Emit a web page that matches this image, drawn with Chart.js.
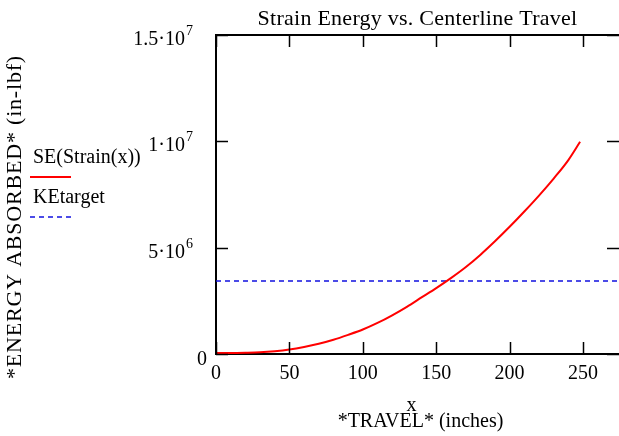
<!DOCTYPE html>
<html lang="en">
<head>
  <meta charset="UTF-8" />
  <title>Strain Energy vs. Centerline Travel</title>
  <style>
    body { margin: 0; background: #fff; }
    #wrap { width: 619px; height: 436px; }
  </style>
  <script src="https://cdn.jsdelivr.net/npm/chart.js"></script>
</head>
<body>
  <div id="wrap"><canvas id="seChart" width="619" height="436"></canvas></div>
  <script>
    // values: travel in inches, energy in in-lbf
    const travel = [0, 10, 20, 30, 40, 50, 60, 70, 80, 90, 100, 110, 120, 130, 140, 150, 160, 170, 180, 190, 200, 210, 220, 230, 240, 248];
    const energy = [0.05e6, 0.05e6, 0.06e6, 0.08e6, 0.13e6, 0.21e6, 0.33e6, 0.48e6, 0.67e6, 0.9e6, 1.15e6, 1.46e6, 1.82e6, 2.22e6, 2.66e6, 3.1e6, 3.57e6, 4.08e6, 4.66e6, 5.3e6, 5.98e6, 6.7e6, 7.45e6, 8.25e6, 9.12e6, 9.98e6];
    const keTarget = 3.43e6;
    const xRange = [0, 274.5];
    const yRange = [0, 1.5e7];

    // y tick labels in Mathcad style: base text plus a superscript exponent
    const yTickValues = [0, 5e6, 1e7, 1.5e7];
    const yTickBase = ['0', '5\u00B710', '1\u00B710', '1.5\u00B710'];
    const yTickExp = ['', '6', '7', '7'];

    const serif = "'Liberation Serif', 'Times New Roman', serif";

    // frame, inward ticks, titles, y labels and the legend
    const decor = {
      id: 'decor',
      afterDraw(chart) {
        const { ctx, chartArea: a, scales: { x, y } } = chart;
        ctx.save();
        ctx.strokeStyle = '#000';
        ctx.lineWidth = 2;
        ctx.beginPath();
        ctx.moveTo(a.left, a.top);
        ctx.lineTo(a.right, a.top);
        ctx.stroke();

        ctx.lineWidth = 1.5;
        ctx.beginPath();
        x.ticks.forEach(t => {
          const px = Math.round(x.getPixelForValue(t.value)) + 0.5;
          ctx.moveTo(px, a.bottom); ctx.lineTo(px, a.bottom - 12);
          ctx.moveTo(px, a.top); ctx.lineTo(px, a.top + 12);
        });
        yTickValues.forEach(v => {
          const py = Math.round(y.getPixelForValue(v)) + 0.5;
          ctx.moveTo(a.left, py); ctx.lineTo(a.left + 12, py);
          ctx.moveTo(a.right, py); ctx.lineTo(a.right - 12, py);
        });
        ctx.stroke();

        ctx.fillStyle = '#000';
        ctx.textBaseline = 'alphabetic';
        yTickValues.forEach((v, i) => {
          const py = y.getPixelForValue(v);
          ctx.font = '20px ' + serif;
          if (yTickExp[i]) {
            ctx.textAlign = 'right';
            ctx.fillText(yTickBase[i], 185, py + 10);
            ctx.textAlign = 'left';
            ctx.font = '14px ' + serif;
            ctx.fillText(yTickExp[i], 186, py);
          } else {
            ctx.textAlign = 'right';
            ctx.fillText(yTickBase[i], 207, py + 11);
          }
        });

        // title
        ctx.font = '22px ' + serif;
        ctx.letterSpacing = '0.25px';
        ctx.textAlign = 'center';
        ctx.fillText('Strain Energy vs. Centerline Travel', (a.left + a.right) / 2, 25);

        // x axis title
        ctx.font = '20px ' + serif;
        ctx.letterSpacing = '0px';
        ctx.fillText('x', (a.left + a.right) / 2 - 6, 411);
        ctx.fillText('*TRAVEL* (inches)', (a.left + a.right) / 2 + 3, 427);

        // y axis title
        ctx.save();
        ctx.font = '22px ' + serif;
        ctx.letterSpacing = '0.8px';
        ctx.translate(21, 217);
        ctx.rotate(-Math.PI / 2);
        ctx.fillText('*ENERGY ABSORBED* (in-lbf)', 0, 0);
        ctx.restore();

        // legend
        ctx.font = '20px ' + serif;
        ctx.letterSpacing = '0px';
        ctx.textAlign = 'left';
        ctx.fillText('SE(Strain(x))', 33, 163);
        ctx.fillText('KEtarget', 33, 203);
        ctx.strokeStyle = '#ff0000';
        ctx.lineWidth = 2;
        ctx.beginPath(); ctx.moveTo(30, 177); ctx.lineTo(71, 177); ctx.stroke();
        ctx.strokeStyle = '#1010e0';
        ctx.lineWidth = 1.5;
        ctx.setLineDash([5, 4]);
        ctx.beginPath(); ctx.moveTo(30, 217); ctx.lineTo(71, 217); ctx.stroke();
        ctx.restore();
      }
    };

    const ctx = document.getElementById('seChart').getContext('2d');
    new Chart(ctx, {
      type: 'line',
      data: {
        datasets: [
          {
            label: 'SE(Strain(x))',
            data: travel.map((t, i) => ({ x: t, y: energy[i] })),
            borderColor: '#ff0000',
            borderWidth: 2,
            pointRadius: 0,
            cubicInterpolationMode: 'monotone',
            fill: false
          },
          {
            label: 'KEtarget',
            data: [{ x: xRange[0], y: keTarget }, { x: xRange[1], y: keTarget }],
            borderColor: '#1010e0',
            borderWidth: 1.5,
            borderDash: [5, 4],
            pointRadius: 0,
            fill: false
          }
        ]
      },
      options: {
        responsive: false,
        animation: false,
        layout: { padding: { top: 35, right: 0, left: 0, bottom: 0 } },
        plugins: { legend: { display: false }, tooltip: { enabled: false }, title: { display: false } },
        scales: {
          x: {
            type: 'linear',
            min: xRange[0],
            max: xRange[1],
            afterFit: s => { s.height = 82; },
            grid: { display: false, drawTicks: false },
            border: { display: true, color: '#000', width: 2 },
            ticks: {
              stepSize: 50,
              includeBounds: false,
              padding: 8,
              color: '#000',
              font: { family: serif, size: 20 }
            }
          },
          y: {
            min: yRange[0],
            max: yRange[1],
            afterFit: s => { s.width = 216; },
            grid: { display: false, drawTicks: false },
            border: { display: true, color: '#000', width: 2 },
            ticks: { stepSize: 5e6, display: false }
          }
        }
      },
      plugins: [decor]
    });
  </script>
</body>
</html>
